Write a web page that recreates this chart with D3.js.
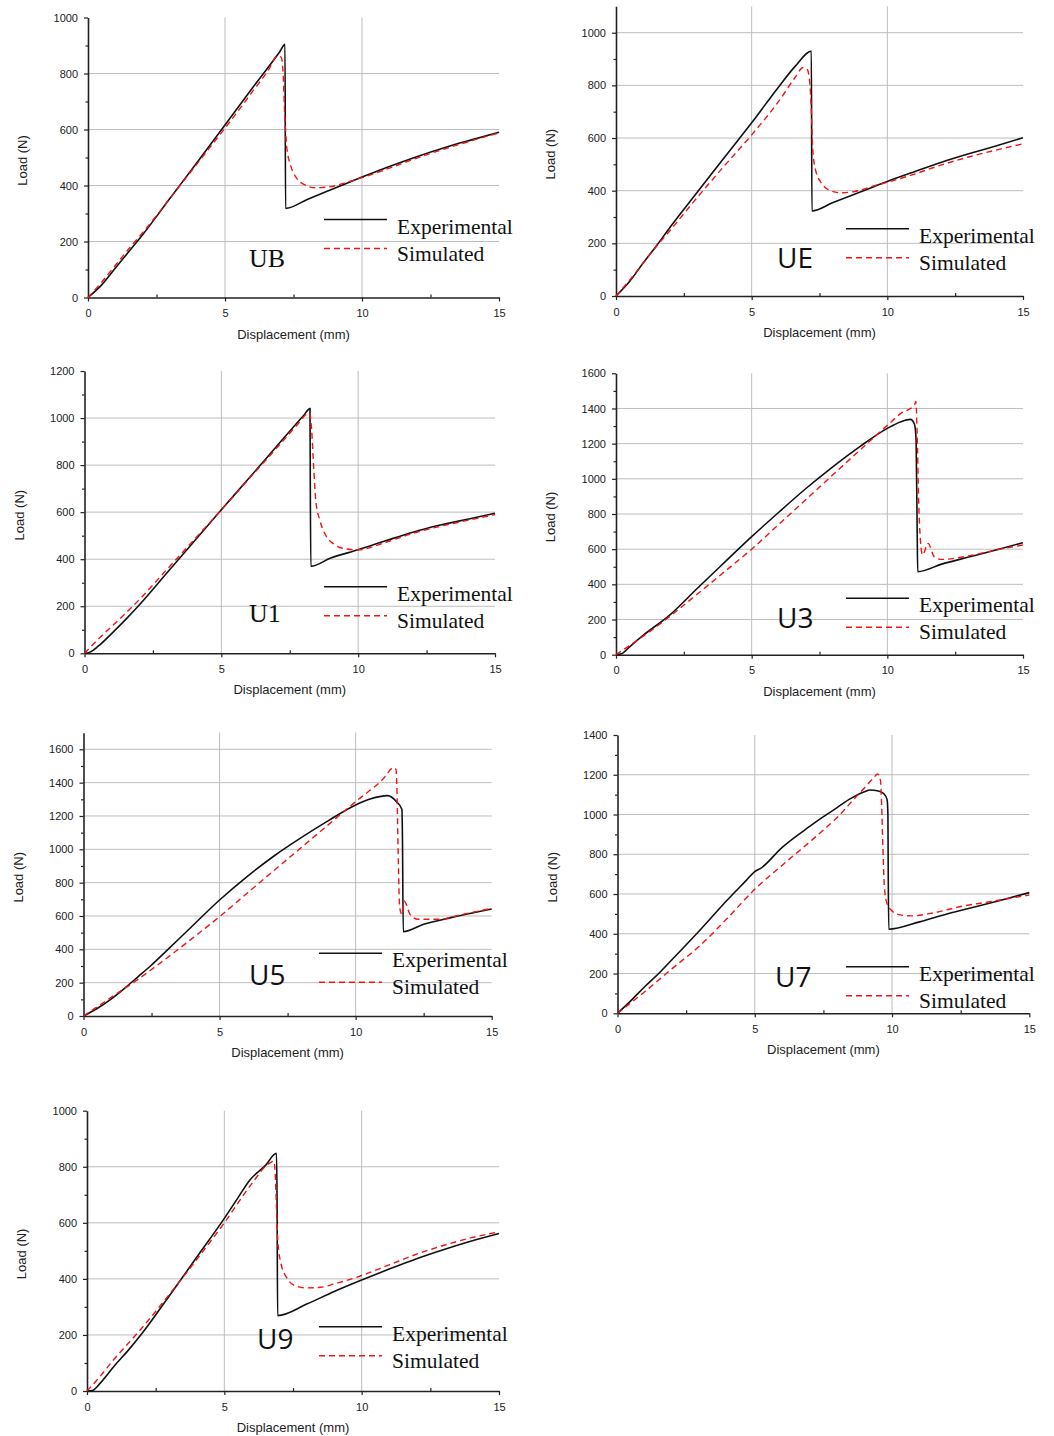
<!DOCTYPE html>
<html>
<head>
<meta charset="utf-8">
<script src="https://cdn.jsdelivr.net/npm/d3@7"></script>
<style>
  body { margin: 0; background: #fff; }
  svg { display: block; }
</style>
</head>
<body>
<svg id="chart" width="1054" height="1436"></svg>
<script>
// load-displacement curves, [displacement (mm), load (N)]
var ubExp = [[0,0],[0.5,45],[1,105],[1.5,165],[2,225],[3,355],[4,485],[5,616],[6,748],[7,878],[7.19,904],[7.21,318],[8,350],[9,390],[10,430],[11,468],[12,503],[13,535],[14,563],[15,590]];
var ubSim = [[0,0],[0.5,55],[1,115],[1.5,175],[2,232],[3,355],[4,480],[5,605],[6,735],[6.6,815],[6.9,862],[7.05,858],[7.12,800],[7.18,650],[7.25,540],[7.4,470],[7.6,428],[7.9,403],[8.3,392],[8.8,395],[9.5,413],[10,428],[11,462],[12,498],[13,530],[14,560],[15,588]];

var ueExp = [[0,0],[0.5,55],[1,125],[1.5,192],[2,262],[3,395],[4,527],[5,658],[6,795],[6.6,872],[7.2,930],[7.22,323],[8,355],[9,395],[10,435],[11,472],[12,508],[13,540],[14,570],[15,601]];
var ueSim = [[0,0],[0.5,60],[1,125],[1.5,190],[2,250],[3,375],[4,495],[5,612],[6,740],[6.6,830],[6.9,868],[7.05,860],[7.15,800],[7.2,700],[7.25,560],[7.35,480],[7.6,425],[7.9,400],[8.3,392],[8.8,397],[9.5,418],[10,432],[11,463],[12,498],[13,528],[14,554],[15,578]];

var u1Exp = [[0,0],[0.2,5],[0.5,30],[1,85],[1.5,143],[2,205],[3,340],[4,475],[5,610],[6,743],[7,877],[8,1010],[8.24,1040],[8.25,740],[8.27,370],[9,405],[10,440],[11,478],[12,515],[13,545],[14,570],[15,595]];
var u1Sim = [[0,0],[0.5,60],[1,115],[1.5,170],[2,228],[3,355],[4,482],[5,610],[6,740],[7,870],[7.8,975],[8.1,1015],[8.22,1022],[8.3,950],[8.37,800],[8.45,650],[8.6,565],[8.8,505],[9.1,465],[9.5,445],[10,440],[11,472],[12,510],[13,540],[14,565],[15,590]];

var u3Exp = [[0,0],[0.2,5],[0.5,45],[1,110],[2,228],[3,378],[4,525],[5,671],[6,810],[7,945],[8,1070],[9,1185],[10,1287],[10.5,1325],[10.85,1338],[11,1310],[11.06,1220],[11.1,700],[11.12,472],[12,515],[13,555],[14,595],[15,637]];
var u3Sim = [[0,0],[1,105],[2,220],[3,345],[4,472],[5,600],[6,741],[7,882],[8,1024],[9,1165],[10,1304],[10.5,1372],[11,1420],[11.05,1440],[11.1,1250],[11.15,900],[11.22,650],[11.3,567],[11.5,633],[11.73,557],[12,542],[13,562],[14,595],[15,624]];

var u5Exp = [[0,0],[0.5,45],[1,100],[1.5,165],[2,235],[2.5,306],[3,383],[4,540],[5,696],[6,835],[7,960],[8,1070],[9,1172],[10,1266],[10.5,1300],[11.18,1322],[11.5,1286],[11.7,1240],[11.72,1080],[11.75,506],[12.5,550],[13.5,590],[15,642]];
var u5Sim = [[0,0],[1,110],[2,220],[3,340],[4,466],[5,596],[6,735],[7,873],[8,1010],[9,1148],[10,1286],[11,1420],[11.4,1490],[11.48,1480],[11.52,1350],[11.56,1000],[11.62,650],[11.7,610],[11.78,690],[12,610],[12.3,580],[13,580],[14,612],[15,646]];

var u7Exp = [[0,0],[0.5,65],[1,135],[1.5,200],[2,272],[3,418],[4,570],[4.7,670],[5,713],[5.2,728],[6,835],[7,940],[7.5,989],[8,1035],[8.5,1081],[9,1115],[9.2,1123],[9.5,1118],[9.7,1105],[9.82,1075],[9.85,1000],[9.86,740],[9.88,423],[11,460],[12,500],[13,535],[14,570],[15,607]];
var u7Sim = [[0,0],[1,110],[2,226],[3,340],[4,478],[5,624],[6,745],[7,862],[7.5,922],[8,985],[8.5,1060],[9,1135],[9.3,1180],[9.48,1204],[9.58,1170],[9.62,1050],[9.67,820],[9.72,640],[9.8,560],[10,515],[10.3,495],[10.7,490],[11.5,505],[12.5,537],[13.5,560],[15,595]];

var u9Exp = [[0,0],[0.2,2],[0.5,30],[1,90],[1.5,145],[2,205],[3,340],[4,478],[5,616],[5.5,690],[5.93,753],[6.5,805],[6.9,848],[6.92,680],[6.94,269],[8,310],[9,355],[10,396],[11,435],[12,472],[13,505],[14,535],[15,562]];
var u9Sim = [[0,0],[0.5,55],[1,115],[1.5,170],[2,225],[3,345],[4,470],[5,600],[6,740],[6.6,810],[6.8,820],[6.85,780],[6.9,650],[6.95,530],[7.05,460],[7.3,400],[7.6,375],[8,368],[8.5,370],[9,382],[10,412],[11,450],[12,488],[13,520],[14,547],[15,568]];

var specimenNames = ['UB', 'UE', 'U1', 'U3', 'U5', 'U7', 'U9'];
var loadMax = [1000, 1100, 1200, 1600, 1700, 1400, 1000];
var xTicks = [0, 5, 10, 15];
var yTickStep = [200, 200, 200, 200, 200, 200, 200];

var legendLabels = ['Experimental', 'Simulated'];
var xTitle = 'Displacement (mm)';
var yTitle = 'Load (N)';

// panel frames on the page (pixels)
var panels = [
  {name: 'UB', exp: ubExp, sim: ubSim, left: 88,  right: 499,  bottom: 297.5, topVal: 1000, top: 17.5,  lx: 324, ly: 219.5, tx: 249, ty: 267, serif: true},
  {name: 'UE', exp: ueExp, sim: ueSim, left: 616, right: 1023, bottom: 296,   topVal: 1000, top: 32.7,  lx: 846, ly: 228.7, tx: 777, ty: 268, serif: false},
  {name: 'U1', exp: u1Exp, sim: u1Sim, left: 84.5,right: 495,  bottom: 653.3, topVal: 1200, top: 371,   lx: 324, ly: 586.7, tx: 249, ty: 622, serif: true},
  {name: 'U3', exp: u3Exp, sim: u3Sim, left: 616, right: 1023, bottom: 654.7, topVal: 1600, top: 373.3, lx: 846, ly: 598.3, tx: 777, ty: 628, serif: false},
  {name: 'U5', exp: u5Exp, sim: u5Sim, left: 83.5,right: 491.7,bottom: 1016,  topVal: 1600, top: 749.3, lx: 319, ly: 953.3, tx: 249, ty: 985, serif: false},
  {name: 'U7', exp: u7Exp, sim: u7Sim, left: 617.5,right: 1029.3,bottom: 1013.3,topVal: 1400, top: 735, lx: 846, ly: 966.7, tx: 775, ty: 987, serif: false},
  {name: 'U9', exp: u9Exp, sim: u9Sim, left: 87,  right: 499,  bottom: 1391,  topVal: 1000, top: 1110.7,lx: 319, ly: 1326.7,tx: 257, ty: 1349, serif: false}
];

var svg = d3.select('#chart');
var sansFont = '"Liberation Sans", Arial, sans-serif';
var serifFont = '"Liberation Serif", "Times New Roman", serif';

panels.forEach(function (p, i) {
  var yMax = loadMax[i];
  var pxPerN = (p.bottom - p.top) / p.topVal;
  var xScale = d3.scaleLinear().domain([0, 15]).range([p.left, p.right]);
  var yScale = d3.scaleLinear().domain([0, yMax]).range([p.bottom, p.bottom - yMax * pxPerN]);
  var yTicks = d3.range(0, yMax + 1, yTickStep[i]);
  var yMinor = d3.range(yTickStep[i] / 2, yMax, yTickStep[i]);
  var xMinor = [2.5, 7.5, 12.5];

  var g = svg.append('g');

  // grid
  g.append('g').selectAll('line').data(yTicks.filter(function (v) { return v > 0 && v < yMax; }))
    .enter().append('line')
    .attr('x1', p.left).attr('x2', p.right)
    .attr('y1', function (d) { return yScale(d); }).attr('y2', function (d) { return yScale(d); })
    .attr('stroke', '#bdbdbd').attr('stroke-width', 1);
  g.append('g').selectAll('line').data([5, 10])
    .enter().append('line')
    .attr('x1', function (d) { return xScale(d); }).attr('x2', function (d) { return xScale(d); })
    .attr('y1', p.bottom).attr('y2', yScale(yMax))
    .attr('stroke', '#bdbdbd').attr('stroke-width', 1);

  // axes
  var xAxis = g.append('g').attr('transform', 'translate(0,' + p.bottom + ')')
    .call(d3.axisBottom(xScale).tickValues(xTicks).tickSize(4).tickSizeOuter(0).tickPadding(8).tickFormat(d3.format('d')));
  var xMin = g.append('g').attr('transform', 'translate(0,' + p.bottom + ')')
    .call(d3.axisTop(xScale).tickValues(xMinor).tickSize(3).tickSizeOuter(0).tickFormat(''));
  xMin.select('.domain').remove();

  var yAxis = g.append('g').attr('transform', 'translate(' + p.left + ',0)')
    .call(d3.axisLeft(yScale).tickValues(yTicks).tickSize(4).tickSizeOuter(0).tickPadding(6).tickFormat(d3.format('d')));
  var yMin = g.append('g').attr('transform', 'translate(' + p.left + ',0)')
    .call(d3.axisLeft(yScale).tickValues(yMinor).tickSize(2.5).tickSizeOuter(0).tickFormat(''));
  yMin.select('.domain').remove();

  [xAxis, yAxis, xMin, yMin].forEach(function (a) {
    a.selectAll('.domain').attr('stroke', '#222').attr('stroke-width', 1.6);
    a.selectAll('.tick line').attr('stroke', '#222').attr('stroke-width', 1.2);
    a.selectAll('.tick text').attr('fill', '#222').style('font-family', sansFont).style('font-size', '11px');
  });

  // axis titles
  g.append('text')
    .attr('x', (p.left + p.right) / 2).attr('y', p.bottom + 41)
    .attr('text-anchor', 'middle')
    .style('font-family', sansFont).style('font-size', '13px').attr('fill', '#222')
    .text(xTitle);
  g.append('text')
    .attr('transform', 'translate(' + (p.left - 61) + ',' + ((p.bottom + yScale(yMax)) / 2 + 3) + ') rotate(-90)')
    .attr('text-anchor', 'middle')
    .style('font-family', sansFont).style('font-size', '13px').attr('fill', '#222')
    .text(yTitle);

  // curves
  var line = d3.line()
    .x(function (d) { return xScale(d[0]); })
    .y(function (d) { return yScale(d[1]); })
    .curve(d3.curveMonotoneX);

  g.append('path').datum(p.exp)
    .attr('d', line).attr('fill', 'none')
    .attr('stroke', '#111').attr('stroke-width', 1.6);
  g.append('path').datum(p.sim)
    .attr('d', line).attr('fill', 'none')
    .attr('stroke', '#f01414').attr('stroke-width', 1.4).attr('stroke-dasharray', '6,4');

  // legend
  var lg = g.append('g');
  lg.append('line').attr('x1', p.lx).attr('x2', p.lx + 63).attr('y1', p.ly).attr('y2', p.ly)
    .attr('stroke', '#111').attr('stroke-width', 1.6);
  lg.append('line').attr('x1', p.lx).attr('x2', p.lx + 63).attr('y1', p.ly + 29).attr('y2', p.ly + 29)
    .attr('stroke', '#f01414').attr('stroke-width', 1.4).attr('stroke-dasharray', '6,4');
  lg.selectAll('text').data(legendLabels).enter().append('text')
    .attr('x', p.lx + 73).attr('y', function (d, k) { return p.ly + 14 + k * 27; })
    .style('font-family', serifFont).style('font-size', '21.5px').attr('fill', '#111')
    .text(function (d) { return d; });

  // specimen label
  g.append('text')
    .attr('x', p.tx).attr('y', p.ty)
    .style('font-family', p.serif ? serifFont : '"Open Sans", sans-serif')
    .style('font-size', p.serif ? '26px' : '28px').attr('fill', '#111')
    .text(specimenNames[i]);
});
</script>
</body>
</html>
